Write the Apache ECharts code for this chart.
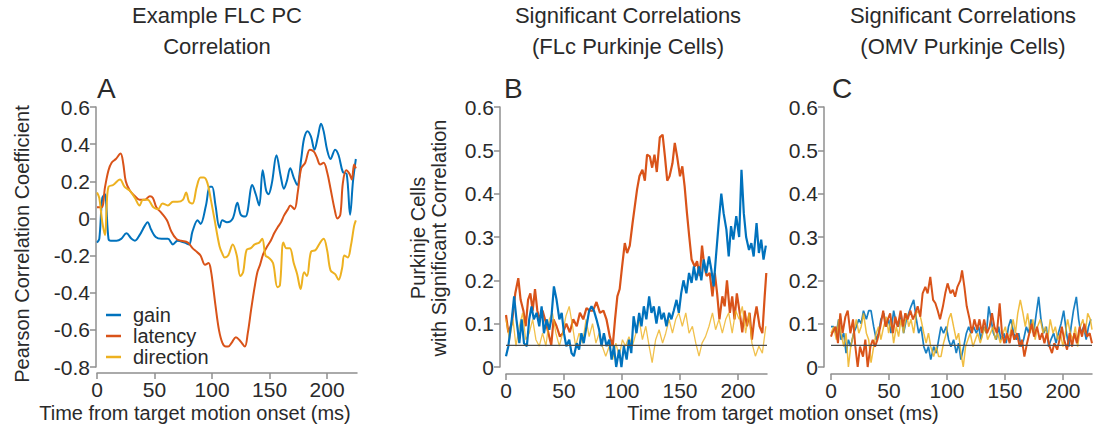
<!DOCTYPE html>
<html><head><meta charset="utf-8">
<script src="https://cdn.jsdelivr.net/npm/echarts@6/dist/echarts.min.js"></script>
<style>html,body{margin:0;padding:0;background:#fff}#c{width:1099px;height:433px}</style>
</head><body><div id="c"></div>
<script>
// ---------- DATA ----------
const seriesNames = ['gain', 'latency', 'direction'];
const timeTicks = [0, 50, 100, 150, 200];
const chanceLevel = 0.05;

// Panel A: example FLC PC correlation (time ms, Pearson r)
const exampleGain = [[0,-0.13],[2,-0.11],[4.6,0.11],[7,0.13],[8,0.08],[10,-0.11],[12,-0.12],[17,-0.12],[21,-0.11],[25.6,-0.08],[30,-0.11],[33,-0.12],[37,-0.09],[41.5,-0.04],[44,-0.02],[47,-0.06],[51,-0.1],[56,-0.11],[61.6,-0.11],[66,-0.14],[70,-0.12],[76,-0.13],[80,-0.14],[83,-0.07],[87.5,-0.01],[90,-0.03],[94.7,0.07],[98,0.17],[100,0.17],[103,0.07],[106.5,-0.05],[109,-0.01],[113,-0.02],[118,0.0],[122,0.085],[125,0.02],[129,0.01],[135,0.18],[138,0.13],[141,0.07],[144,0.26],[147,0.15],[149,0.13],[152,0.19],[156,0.34],[159.6,0.23],[162.5,0.16],[165,0.2],[168,0.27],[171,0.22],[174,0.18],[177.5,0.32],[180,0.43],[183,0.47],[186,0.44],[189,0.37],[192,0.44],[194.7,0.51],[197,0.47],[200,0.37],[203,0.32],[207,0.37],[210,0.34],[213.7,0.25],[217,0.24],[220,0.02],[222.5,0.2],[225,0.32]];
const exampleLatency = [[0,0.06],[4,0.06],[7,0.17],[10,0.26],[12.7,0.3],[16.4,0.32],[20.5,0.35],[22.7,0.3],[25,0.2],[28.5,0.15],[33,0.12],[37,0.1],[41.5,0.1],[46,0.12],[48.6,0.11],[51.6,0.06],[56,0.03],[60.8,-0.01],[64.6,-0.07],[69,-0.11],[73,-0.12],[79,-0.13],[83,-0.16],[86.7,-0.18],[90,-0.2],[94,-0.25],[97,-0.24],[99,-0.28],[101,-0.37],[103,-0.47],[106,-0.6],[109,-0.67],[112,-0.69],[114,-0.69],[117,-0.67],[120.7,-0.64],[124.5,-0.66],[128.5,-0.69],[131,-0.62],[134,-0.49],[137,-0.37],[139.4,-0.29],[141.7,-0.25],[144.6,-0.19],[148,-0.15],[151,-0.12],[154,-0.08],[156.8,-0.05],[160,-0.02],[162.5,0.015],[166,0.05],[168,0.07],[171.6,0.05],[174.5,0.14],[177.5,0.27],[181,0.3],[185,0.37],[188.5,0.36],[191,0.33],[194,0.29],[197,0.3],[200,0.25],[203,0.16],[206.5,0.05],[209,0.0],[211.5,0.02],[213.7,0.19],[216.6,0.26],[219.5,0.24],[221.5,0.21],[223.5,0.29],[225,0.27]];
const exampleDirection = [[0,0.14],[2,0.11],[4.6,-0.02],[7,-0.09],[8.3,0.05],[10,0.17],[14,0.18],[20,0.21],[24,0.17],[28.5,0.15],[33,0.11],[37,0.07],[40,0.1],[44,0.1],[49,0.06],[53,0.05],[57,0.08],[61.6,0.07],[66,0.09],[70,0.09],[74.6,0.1],[77.5,0.14],[80,0.09],[83,0.08],[86.7,0.17],[90,0.22],[93,0.22],[96,0.19],[99,0.1],[102,0.0],[106.5,-0.15],[109,-0.19],[111,-0.21],[114,-0.2],[118,-0.14],[121.5,-0.2],[124.5,-0.31],[127,-0.29],[130,-0.17],[133.7,-0.16],[137,-0.14],[141,-0.13],[143.6,-0.11],[146.5,-0.2],[149,-0.21],[153,-0.24],[156.8,-0.37],[159,-0.36],[162,-0.13],[164.6,-0.16],[167.6,-0.16],[171,-0.24],[174,-0.3],[177,-0.38],[180,-0.29],[182.5,-0.31],[186,-0.18],[190,-0.17],[194,-0.13],[197,-0.11],[200,-0.17],[203,-0.28],[207,-0.3],[210,-0.33],[213,-0.27],[215,-0.2],[218,-0.21],[220.6,-0.15],[223.5,-0.04],[225,-0.01]];

// Panel B: FLc Purkinje cells, fraction with significant correlation
const flcGain = [[0,0.025],[2,0.048],[5,0.11],[7,0.163],[9,0.11],[11.5,0.055],[13.5,0.11],[15.5,0.055],[18,0.048],[20,0.11],[22,0.14],[24,0.11],[26.4,0.125],[28.7,0.094],[30.7,0.14],[32.7,0.078],[35,0.11],[37.3,0.086],[39,0.11],[41.3,0.186],[43.6,0.155],[46,0.11],[48,0.125],[50,0.078],[52,0.048],[54.5,0.063],[56.5,0.032],[58.5,0.025],[61,0.055],[63,0.04],[65,0.078],[67,0.055],[69.4,0.094],[71.7,0.13],[73.7,0.14],[75.8,0.13],[78,0.11],[80.3,0.086],[82.3,0.048],[84.4,0.078],[86.7,0.048],[89,0.063],[91,0.017],[93,0.048],[95,0.0],[97.5,0.04],[99.5,0.0],[101.6,0.048],[104,0.017],[106,0.063],[108,0.032],[110,0.117],[112.5,0.078],[114.8,0.125],[116.8,0.094],[118.8,0.14],[121,0.11],[123.4,0.163],[125.4,0.125],[127.4,0.14],[129.7,0.1],[132,0.14],[134,0.11],[136,0.125],[138.3,0.094],[140.6,0.125],[142.6,0.11],[144.6,0.13],[147,0.155],[149,0.125],[151,0.17],[153,0.2],[155.5,0.17],[157.8,0.217],[160,0.194],[162,0.232],[164,0.2],[166.4,0.232],[168.4,0.2],[170.4,0.248],[172.7,0.217],[175,0.255],[177,0.225],[179,0.186],[181,0.255],[183.6,0.34],[185.6,0.4],[187.6,0.355],[190,0.317],[192,0.255],[194,0.325],[196,0.294],[198.5,0.348],[201,0.3],[203,0.455],[205,0.355],[207,0.3],[209.5,0.27],[211.5,0.286],[213.5,0.255],[216,0.332],[218,0.263],[220,0.294],[222,0.248],[224,0.28]];
const flcLatency = [[0,0.12],[2,0.08],[5,0.1],[8,0.17],[10.6,0.205],[12.6,0.155],[15,0.13],[17,0.094],[19,0.155],[21,0.17],[23,0.13],[25,0.18],[27,0.13],[29,0.11],[31.5,0.13],[33.6,0.11],[36.4,0.08],[39,0.05],[41,0.11],[43.6,0.094],[46.5,0.07],[49,0.078],[52,0.1],[55,0.08],[58,0.11],[61,0.094],[63.7,0.125],[66.6,0.11],[69.4,0.136],[72,0.13],[75,0.13],[78,0.15],[81,0.125],[84,0.13],[86.6,0.11],[89.5,0.07],[92,0.048],[94,0.11],[96,0.163],[98,0.18],[100,0.23],[102.4,0.286],[104.4,0.263],[106.7,0.28],[109,0.33],[111,0.37],[113,0.41],[115,0.44],[117.6,0.455],[119.7,0.43],[121.6,0.49],[124,0.486],[126,0.46],[128,0.49],[130,0.45],[132.6,0.53],[135,0.536],[137,0.486],[139,0.43],[141,0.44],[143.5,0.47],[145.5,0.517],[147.5,0.486],[150,0.44],[152,0.463],[154,0.417],[156,0.355],[158,0.3],[160,0.248],[162.7,0.232],[164.7,0.244],[167,0.21],[169,0.28],[171,0.232],[173,0.21],[175.6,0.217],[178,0.163],[180,0.217],[182,0.17],[184,0.11],[186.5,0.163],[188.5,0.14],[190.5,0.2],[193,0.125],[195,0.163],[197,0.11],[199,0.17],[201.5,0.125],[203.7,0.08],[205.7,0.13],[207.7,0.094],[210,0.125],[212,0.063],[214,0.11],[216,0.14],[218.6,0.094],[221,0.078],[223,0.163],[224.4,0.217]];
const flcDirection = [[0,0.11],[3,0.063],[6,0.11],[8.6,0.048],[11.5,0.094],[14.3,0.125],[17,0.063],[20,0.078],[23,0.11],[25.8,0.063],[28.7,0.048],[31.5,0.078],[34.4,0.048],[37.3,0.11],[40,0.125],[43,0.078],[46,0.048],[48.8,0.078],[51.6,0.117],[54.5,0.14],[57.4,0.094],[60,0.048],[63,0.078],[66,0.055],[69,0.11],[71.7,0.07],[74.6,0.1],[77.5,0.055],[80.3,0.078],[83,0.048],[86,0.025],[89,0.048],[92,0.017],[94.7,0.055],[97.5,0.025],[100.4,0.063],[103,0.048],[106,0.07],[109,0.048],[112,0.078],[114.8,0.11],[117.6,0.063],[120.5,0.094],[123.4,0.048],[126,0.01],[129,0.063],[132,0.086],[135,0.055],[137.7,0.078],[140.6,0.11],[143.5,0.078],[146.3,0.11],[149,0.125],[152,0.094],[155,0.125],[157.8,0.078],[160.7,0.094],[163.6,0.055],[166.4,0.025],[169,0.055],[172,0.07],[175,0.094],[178,0.125],[180.7,0.086],[183.6,0.11],[186.5,0.078],[189.4,0.11],[192,0.125],[195,0.078],[198,0.13],[201,0.11],[203.7,0.14],[206.6,0.078],[209.5,0.125],[212,0.055],[215,0.025],[218,0.048],[221,0.032],[224,0.094]];

// Panel C: OMV Purkinje cells
const omvGain = [[0,0.093],[2.3,0.093],[4.6,0.078],[6.6,0.11],[8.6,0.063],[11,0.078],[13,0.032],[15,0.063],[17,0.047],[19.5,0.078],[21.8,0.093],[24,0.11],[26,0.1],[28,0.13],[30.5,0.11],[32.5,0.13],[34.5,0.13],[36.8,0.093],[39,0.063],[41,0.078],[43,0.11],[45.4,0.124],[47.7,0.093],[49.7,0.11],[51.7,0.078],[54,0.13],[56.3,0.1],[58.3,0.093],[60.3,0.124],[62.6,0.078],[65,0.11],[67,0.124],[69,0.14],[71.3,0.155],[73.6,0.11],[75.6,0.078],[77.6,0.093],[80,0.047],[82,0.032],[84,0.047],[86,0.017],[88.5,0.047],[90.8,0.032],[92.8,0.063],[94.8,0.093],[97,0.078],[99.4,0.093],[101.4,0.063],[103.4,0.047],[105.7,0.063],[108,0.032],[110,0.055],[112,0.017],[114.4,0.047],[116.7,0.078],[118.7,0.093],[120.7,0.078],[123,0.093],[125.3,0.078],[127.3,0.093],[129.3,0.063],[131.6,0.093],[134,0.078],[136,0.14],[138,0.11],[140,0.078],[142.5,0.063],[144.5,0.093],[146.5,0.063],[149,0.078],[151,0.055],[153,0.093],[155,0.11],[157.5,0.078],[159.8,0.063],[161.8,0.078],[163.8,0.047],[166,0.063],[168.4,0.093],[170.4,0.078],[172.4,0.11],[174.7,0.078],[177,0.124],[179,0.162],[181,0.11],[183.3,0.078],[185.6,0.093],[187.6,0.047],[189.6,0.063],[192,0.078],[194,0.055],[196,0.078],[198.3,0.1],[200.6,0.13],[203,0.078],[205,0.047],[207,0.093],[209,0.13],[211.5,0.162],[213.5,0.11],[215.5,0.078],[217.8,0.093],[220,0.063],[222,0.093],[224,0.11]];
const omvLatency = [[0,0.07],[1,0.078],[4,0.093],[6,0.055],[8,0.124],[10,0.078],[12.4,0.116],[14.4,0.13],[16.7,0.078],[19,0.11],[21,0.047],[23,0.0],[25,0.047],[27.6,0.024],[29.6,0.063],[31.6,0.0],[34,0.047],[36,0.063],[38,0.047],[40,0.063],[42.5,0.093],[45,0.13],[47,0.093],[49,0.11],[51,0.124],[53.4,0.078],[55.5,0.116],[57.5,0.093],[60,0.13],[62,0.093],[64,0.124],[66,0.11],[68.4,0.13],[70.7,0.11],[72.7,0.124],[74.7,0.14],[77,0.116],[79,0.17],[81.3,0.185],[83.3,0.17],[85.6,0.208],[88,0.155],[90,0.147],[92,0.13],[94,0.11],[96.5,0.14],[98.5,0.17],[100.5,0.193],[103,0.17],[105,0.178],[107,0.162],[109,0.185],[111.5,0.2],[113,0.223],[115,0.185],[117,0.14],[119.5,0.11],[121.5,0.078],[123.6,0.11],[126,0.086],[128,0.11],[130,0.078],[132,0.11],[134.5,0.078],[136.8,0.093],[138.8,0.124],[140.8,0.093],[143,0.078],[145.4,0.147],[147.4,0.078],[149.4,0.055],[151.7,0.078],[154,0.055],[156,0.086],[158,0.063],[160.3,0.078],[162.6,0.047],[164.6,0.063],[166.7,0.024],[169,0.055],[171,0.078],[173,0.1],[175,0.07],[177.6,0.093],[180,0.063],[182,0.078],[184,0.055],[186,0.078],[188.5,0.047],[190.5,0.032],[192.5,0.055],[195,0.04],[197,0.063],[199,0.093],[201,0.063],[203.5,0.04],[205.7,0.078],[207.8,0.047],[209.8,0.078],[212,0.055],[214.4,0.093],[216.4,0.07],[218.4,0.1],[220.7,0.07],[223,0.078],[225,0.055]];
const omvDirection = [[0,0.078],[2.3,0.093],[4.6,0.063],[6.6,0.11],[8.6,0.078],[11,0.047],[13,0.078],[15,0.0],[17,0.047],[19.5,0.078],[21.8,0.11],[24,0.078],[26,0.093],[28,0.124],[30.5,0.078],[32.5,0.063],[34.5,0.01],[36.8,0.047],[39,0.078],[41,0.093],[43,0.063],[45.4,0.093],[47.7,0.116],[49.7,0.078],[51.7,0.11],[54,0.055],[56.3,0.093],[58.3,0.07],[60.3,0.11],[62.6,0.078],[65,0.124],[67,0.093],[69,0.11],[71.3,0.078],[73.6,0.124],[75.6,0.13],[77.6,0.11],[80,0.078],[82,0.055],[84,0.078],[86,0.047],[88.5,0.024],[90.8,0.047],[92.8,0.024],[94.8,0.024],[97,0.055],[99.4,0.078],[101.4,0.11],[103.4,0.124],[105.7,0.093],[108,0.063],[110,0.078],[112,0.032],[114,0.0],[116,0.047],[118,0.063],[120,0.078],[122.4,0.047],[124.4,0.063],[126.4,0.078],[128.7,0.055],[131,0.078],[133,0.093],[135,0.063],[137.4,0.078],[139.7,0.093],[141.7,0.063],[143.7,0.078],[146,0.055],[148.3,0.078],[150.3,0.093],[152.3,0.063],[154.6,0.078],[157,0.11],[159,0.078],[161,0.124],[163.2,0.155],[165.5,0.124],[167.5,0.093],[169.5,0.124],[171.8,0.078],[174,0.11],[176,0.063],[178,0.093],[180.5,0.11],[182.8,0.078],[184.8,0.093],[186.8,0.063],[189,0.11],[191.4,0.078],[193.4,0.093],[195.4,0.063],[197.7,0.078],[200,0.047],[202,0.078],[204,0.11],[206.3,0.078],[208.6,0.063],[210.6,0.093],[212.6,0.047],[215,0.093],[217.2,0.11],[219.2,0.078],[221.3,0.124],[223.6,0.11],[225,0.086]];

// ---------- STYLE ----------
const COLORS = {gain: '#0072BD', latency: '#D95319', direction: '#EDB120'};
const FONT = '"Liberation Sans", Arial, Helvetica, sans-serif';
const TXT = '#2a2a2a';
const AX = '#8f8f8f';

const chart = echarts.init(document.getElementById('c'), null, {renderer: 'svg'});

const grids = [
  {left: 97, top: 107, width: 260, height: 260},
  {left: 506, top: 107, width: 261, height: 260},
  {left: 831, top: 107, width: 261, height: 260}
].map(g => Object.assign({containLabel: false, outerBoundsMode: 'none'}, g));

function xAx(i, max, offset) {
  return {
    type: 'value', gridIndex: i, min: 0, max: max, interval: 50, offset: offset,
    axisLine: {show: true, onZero: false, lineStyle: {color: AX, width: 1.5}},
    axisTick: {show: true, length: 6, customValues: timeTicks, lineStyle: {color: AX, width: 1.5}},
    axisLabel: {color: TXT, fontSize: 21, fontFamily: FONT, margin: 6, customValues: timeTicks},
    splitLine: {show: false}
  };
}
function yAx(i, min, max, interval, offset) {
  return {
    type: 'value', gridIndex: i, min: min, max: max, interval: interval, offset: offset,
    axisLine: {show: true, onZero: false, lineStyle: {color: AX, width: 1.5}},
    axisTick: {show: true, length: 6, lineStyle: {color: AX, width: 1.5}},
    axisLabel: {color: TXT, fontSize: 21, fontFamily: FONT, margin: 6,
      formatter: v => (Math.abs(v) < 1e-9 ? '0' : String(+v.toFixed(1)))},
    splitLine: {show: false}
  };
}

function lineSeries(name, data, gi, opts) {
  opts = opts || {};
  return {
    name: name, type: 'line', xAxisIndex: gi, yAxisIndex: gi, data: data,
    showSymbol: false, symbol: 'none', smooth: opts.smooth || false, animation: false,
    lineStyle: {color: COLORS[name], width: opts.width || 1.8, opacity: opts.opacity || 1},
    itemStyle: {color: COLORS[name]}, z: opts.z || 2
  };
}
function chanceSeries(gi) {
  return {
    name: 'chance', type: 'line', xAxisIndex: gi, yAxisIndex: gi,
    data: [[0, chanceLevel], [225, chanceLevel]], showSymbol: false, symbol: 'none',
    lineStyle: {color: '#4a4a4a', width: 1.4}, z: 10, animation: false
  };
}

function txt(x, y, text, size, opts) {
  opts = opts || {};
  return {
    type: 'text', x: x, y: y, rotation: opts.rot || 0, silent: true,
    style: {text: text, fontSize: size, fontFamily: FONT, fill: TXT,
      align: opts.align || 'center', textAlign: opts.align || 'center',
      verticalAlign: 'middle', textVerticalAlign: 'middle', lineHeight: opts.lh || size}
  };
}

const option = {
  backgroundColor: '#ffffff',
  animation: false,
  grid: grids,
  xAxis: [xAx(0, 226, 6), xAx(1, 225, 7), xAx(2, 225, 7)],
  yAxis: [yAx(0, -0.8, 0.6, 0.2, 1), yAx(1, 0, 0.6, 0.1, 6), yAx(2, 0, 0.6, 0.1, 7)],
  legend: {
    data: seriesNames, left: 101, top: 300, orient: 'vertical', icon: 'rect',
    itemWidth: 15, itemHeight: 2.5, itemGap: 1, selectedMode: false,
    textStyle: {color: TXT, fontSize: 20, fontFamily: FONT, lineHeight: 20, padding: [0, 0, 0, 7]}
  },
  series: [
    lineSeries('gain', exampleGain, 0, {smooth: 0.35, width: 2}),
    lineSeries('latency', exampleLatency, 0, {smooth: 0.35, width: 2}),
    lineSeries('direction', exampleDirection, 0, {smooth: 0.35, width: 2}),
    lineSeries('latency', flcLatency, 1, {width: 2.2, z: 2}),
    lineSeries('direction', flcDirection, 1, {width: 1.3, opacity: 0.8, z: 3}),
    lineSeries('gain', flcGain, 1, {width: 2.2, z: 4}),
    chanceSeries(1),
    lineSeries('gain', omvGain, 2, {width: 1.7, opacity: 0.9, z: 2}),
    lineSeries('direction', omvDirection, 2, {width: 1.5, opacity: 0.85, z: 3}),
    lineSeries('latency', omvLatency, 2, {width: 2, z: 4}),
    chanceSeries(2)
  ],
  graphic: [
    txt(217, 31, 'Example FLC PC\nCorrelation', 22, {lh: 31}),
    txt(628, 31, 'Significant Correlations\n(FLc Purkinje Cells)', 22, {lh: 31}),
    txt(963, 31, 'Significant Correlations\n(OMV Purkinje Cells)', 22, {lh: 31}),
    txt(97, 88, 'A', 28, {align: 'left'}),
    txt(504, 88, 'B', 28, {align: 'left'}),
    txt(832, 88, 'C', 28, {align: 'left'}),
    txt(22, 244, 'Pearson Correlation Coefficient', 20, {rot: Math.PI / 2}),
    txt(428, 238, 'Purkinje Cells\nwith Significant Correlation', 20, {rot: Math.PI / 2, lh: 21}),
    txt(195, 413, 'Time from target motion onset (ms)', 20),
    txt(783, 413, 'Time from target motion onset (ms)', 20)
  ]
};
chart.setOption(option);
</script>
</body></html>
